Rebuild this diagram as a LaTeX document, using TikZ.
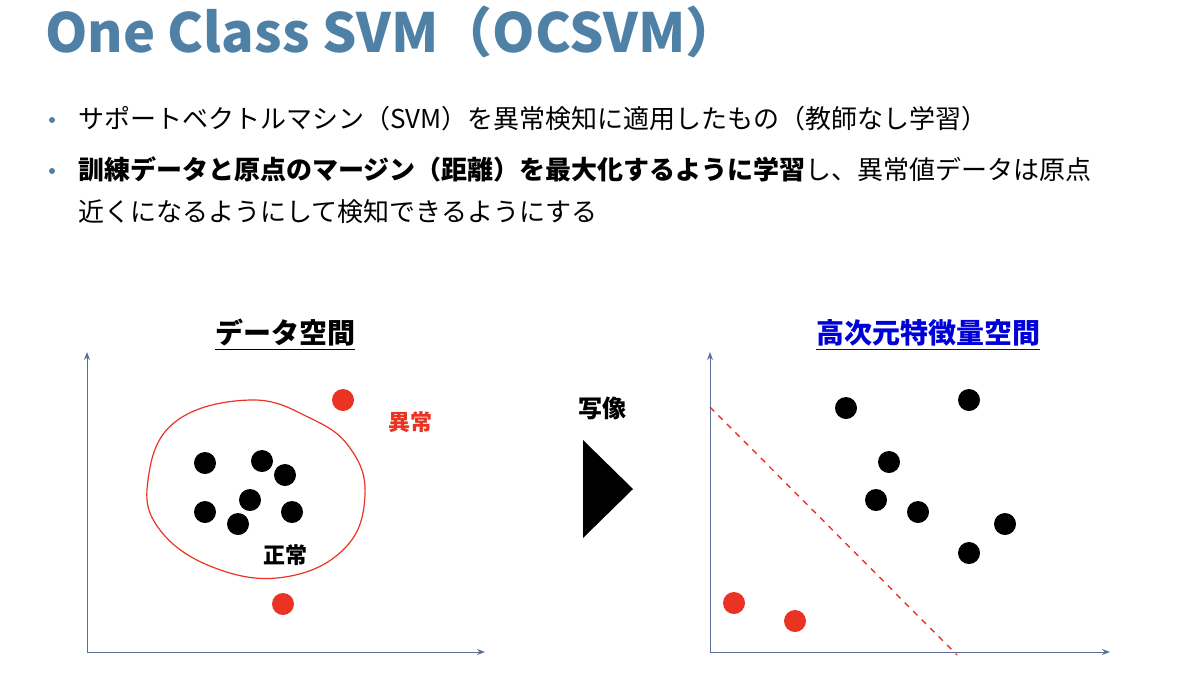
\documentclass[tikz,border=0pt]{standalone}
\usepackage{fontspec}
\setmainfont{Noto Sans CJK JP}
\newfontfamily\jp{Noto Sans CJK JP}
\usetikzlibrary{arrows.meta}
\definecolor{ttl}{HTML}{4F80A6}
\definecolor{rd}{HTML}{EA3323}
\definecolor{ax}{HTML}{5A6F9A}
\tikzset{
 dot/.style={circle,fill=black,inner sep=0pt,minimum size=22pt*0.5},
 rdot/.style={circle,fill=rd,inner sep=0pt,minimum size=22pt*0.5},
 axis/.style={draw=ax,line width=0.5pt,-{Stealth[length=4pt,width=3pt]}},
 txt/.style={anchor=base west,inner sep=0pt,font=\fontsize{13}{15}\selectfont},
 bul/.style={circle,fill=ttl,inner sep=0pt,minimum size=3pt},
 hd/.style={font=\fontsize{14}{16}\selectfont\bfseries,inner sep=0pt}
}
\begin{document}
\begin{tikzpicture}[x=0.5pt,y=-0.5pt]
\useasboundingbox (0,0) rectangle (1200,676);
\node[anchor=base west,inner sep=0pt,text=ttl,font=\fontsize{27}{30}\selectfont\bfseries] (title) at (45,52) {One Class SVM（OCSVM）};
\node[bul] (b1) at (52,120) {};
\node[bul] (b2) at (52,171) {};
\node[txt] (t1) at (78,128) {サポートベクトルマシン（SVM）を異常検知に適用したもの（教師なし学習）};
\node[txt] (t2) at (78,179) {\textbf{訓練データと原点のマージン（距離）を最大化するように学習}し、異常値データは原点};
\node[txt] (t3) at (78,221) {近くになるようにして検知できるようにする};
% left
\node[hd] (h1) at (285,335) {\underline{データ空間}};
\coordinate (o1) at (87,652);
\coordinate (y1) at (87,352);
\coordinate (x1) at (485,652);
\draw[axis] (o1) -- (y1);
\draw[axis] (o1) -- (x1);
\draw[rd,line width=0.6pt] plot[smooth cycle,tension=0.7] coordinates {(148,480)(175,422)(250,400)(310,418)(350,448)(365,495)(345,548)(285,577)(215,568)(160,530)};
\foreach \n/\x/\y in {a/205/463,b/262/461,c/285/475,d/250/500,e/205/512,f/238/524,g/292/512}
  \node[dot] (l\n) at (\x,\y) {};
\node[rdot] (lr1) at (343,400) {};
\node[rdot] (lr2) at (283,604) {};
\node[hd,text=rd,font=\fontsize{11}{13}\selectfont\bfseries] (ab) at (410,422) {異常};
\node[hd,font=\fontsize{11}{13}\selectfont\bfseries] (no) at (285,555) {正常};
% middle
\node[hd,font=\fontsize{12}{14}\selectfont\bfseries] (map) at (602,408) {写像};
\fill (583,440) -- (583,538) -- (633,489) -- cycle;
% right
\node[hd,text=blue!85!black] (h2) at (928,335) {\underline{高次元特徴量空間}};
\coordinate (o2) at (710,652);
\coordinate (y2) at (710,352);
\coordinate (x2) at (1110,652);
\draw[axis] (o2) -- (y2);
\draw[axis] (o2) -- (x2);
\foreach \n/\x/\y in {a/846/408,b/969/400,c/889/462,d/876/500,e/918/512,f/1005/524,g/969/553}
  \node[dot] (r\n) at (\x,\y) {};
\node[rdot] (rr1) at (734,603) {};
\node[rdot] (rr2) at (795,621) {};
\coordinate (d1) at (710,407);
\coordinate (d2) at (957,655);
\draw[rd,dashed,line width=0.7pt] (d1) -- (d2);
\end{tikzpicture}
\end{document}
